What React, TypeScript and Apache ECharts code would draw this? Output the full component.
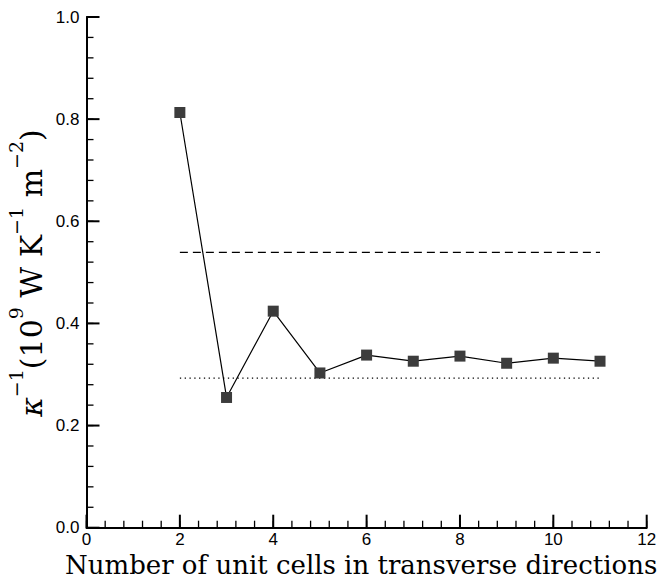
import React, { useEffect, useRef } from "react";
import * as echarts from "echarts";

// Inverse thermal boundary conductance vs. number of unit cells
const cellCounts = [2, 3, 4, 5, 6, 7, 8, 9, 10, 11];
const inverseConductance = [0.813, 0.255, 0.424, 0.303, 0.338, 0.326, 0.336, 0.322, 0.332, 0.326];

// Horizontal reference levels spanning the simulated range
const referenceRange = [2, 11];
const dashedLevel = 0.539;
const dottedLevel = 0.293;

const xTicks = { min: 0, max: 12, interval: 2 };
const yTicks = { min: 0, max: 1.0, interval: 0.2 };
const minorDivisions = 5;

// tick positions along each axis (major + minor subdivisions)
function tickValues(min: number, max: number, step: number) {
  const out: number[] = [];
  const n = Math.round((max - min) / step);
  for (let i = 0; i <= n; i++) out.push(+(min + i * step).toFixed(6));
  return out;
}
const xMajor = tickValues(xTicks.min, xTicks.max, xTicks.interval);
const xMinor = tickValues(xTicks.min, xTicks.max, xTicks.interval / minorDivisions);
const yMajor = tickValues(yTicks.min, yTicks.max, yTicks.interval);
const yMinor = tickValues(yTicks.min, yTicks.max, yTicks.interval / minorDivisions);

// inward-pointing tick marks drawn through the cartesian scales
function tickSeries(values: number[], dir: "x" | "y", len: number, width: number) {
  return {
    type: "custom",
    coordinateSystem: "cartesian2d",
    silent: true,
    clip: false,
    z: 5,
    data: values.map((v) => (dir === "x" ? [v, yTicks.min] : [xTicks.min, v])),
    renderItem: (_params: any, api: any) => {
      const p = api.coord([api.value(0), api.value(1)]);
      const shape =
        dir === "x"
          ? { x1: p[0], y1: p[1], x2: p[0], y2: p[1] - len }
          : { x1: p[0], y1: p[1], x2: p[0] + len, y2: p[1] };
      return { type: "line", shape, style: { stroke: "#000", lineWidth: width } };
    },
  };
}

function makeAxis(extra: any) {
  return {
    type: "value",
    axisLine: { show: true, onZero: false, lineStyle: { color: "#000", width: 2 } },
    axisTick: { show: false },
    minorTick: { show: false },
    splitLine: { show: false },
    minorSplitLine: { show: false },
    ...extra,
  };
}

export default function App() {
  const ref = useRef<HTMLDivElement>(null);

  useEffect(() => {
    if (!ref.current) return;
    const chart = echarts.init(ref.current, null, { renderer: "svg" });

    chart.setOption({
      animation: false,
      backgroundColor: "#fff",
      grid: { left: 86.5, right: 24.3, top: 17, bottom: 56.3, containLabel: false },
      xAxis: makeAxis({
        ...xTicks,
        axisLabel: {
          show: true,
          color: "#000",
          fontFamily: "Liberation Sans",
          fontSize: 17,
          margin: 3,
        },
      }),
      yAxis: makeAxis({
        ...yTicks,
        axisLabel: {
          show: true,
          color: "#000",
          fontFamily: "Liberation Sans",
          fontSize: 17,
          margin: 7,
          formatter: (v: number) => v.toFixed(1),
        },
      }),
      graphic: [
        {
          type: "text",
          x: 65,
          y: 565,
          style: {
            text: "Number of unit cells in transverse directions",
            fontFamily: "DejaVu Serif",
            fontSize: 26,
            fill: "#000",
            align: "left",
            verticalAlign: "middle",
          },
        },
        {
          type: "text",
          x: 26,
          y: 273,
          rotation: Math.PI / 2,
          style: {
            text: "{k|κ}{s|−1}{b|(10}{s|9}{b| W K}{s|−1}{b| m}{s|−2}{b|)}",
            align: "center",
            verticalAlign: "middle",
            fill: "#000",
            rich: {
              k: { fontFamily: "DejaVu Serif", fontStyle: "italic", fontSize: 30, fill: "#000", lineHeight: 40, verticalAlign: "bottom" },
              b: { fontFamily: "DejaVu Serif", fontSize: 30, fill: "#000", lineHeight: 40, verticalAlign: "bottom" },
              s: { fontFamily: "DejaVu Serif", fontSize: 19, fill: "#000", lineHeight: 40, verticalAlign: "top" },
            },
          },
        },
      ],
      series: [
        {
          type: "line",
          data: referenceRange.map((x) => [x, dashedLevel]),
          symbol: "none",
          lineStyle: { color: "#000", width: 1.3, type: [8, 5] },
          silent: true,
        },
        {
          type: "line",
          data: referenceRange.map((x) => [x, dottedLevel]),
          symbol: "none",
          lineStyle: { color: "#000", width: 1.3, type: [1.3, 3.5] },
          silent: true,
        },
        {
          type: "line",
          data: cellCounts.map((x, i) => [x, inverseConductance[i]]),
          symbol: "rect",
          symbolSize: 11,
          itemStyle: { color: "#3c3c3c" },
          lineStyle: { color: "#000", width: 1.2 },
          z: 3,
        },
        tickSeries(xMinor, "x", 7, 1.3),
        tickSeries(yMinor, "y", 7, 1.3),
        tickSeries(xMajor, "x", 13, 2),
        tickSeries(yMajor, "y", 13, 2),
      ],
    });

    return () => chart.dispose();
  }, []);

  return (
    <div
      ref={ref}
      style={{ position: "fixed", left: 0, top: 0, width: 671, height: 584 }}
    />
  );
}
